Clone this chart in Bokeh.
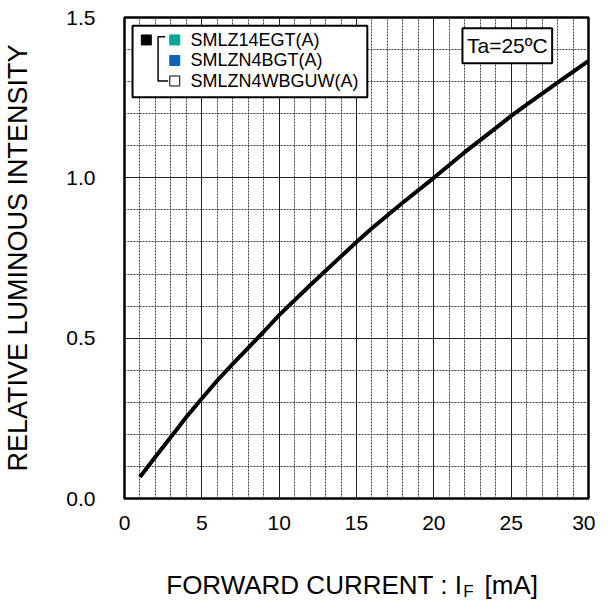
from bokeh.plotting import figure
from bokeh.layouts import column
from bokeh.models import FixedTicker, PrintfTickFormatter, Range1d
from bokeh.core.properties import value
from bokeh.embed import file_html
from bokeh.resources import INLINE

# ---- data ----
current_ma = [1, 2, 3, 4, 5, 6, 7, 8, 9, 10, 12, 14, 15, 16, 18, 20, 22, 24, 25, 26, 28, 30]
rel_intensity = [0.067, 0.130, 0.192, 0.254, 0.312, 0.368, 0.420, 0.470, 0.520, 0.572,
                 0.665, 0.755, 0.800, 0.843, 0.923, 1.000, 1.080, 1.155, 1.193, 1.228,
                 1.297, 1.365]
x_major = [0, 5, 10, 15, 20, 25, 30]
x_minor = list(range(0, 31))
y_major = [0.0, 0.5, 1.0, 1.5]
y_minor = [i / 10 for i in range(0, 16)]
legend_names = ["SMLZ14EGT(A)", "SMLZN4BGT(A)", "SMLZN4WBGUW(A)"]
legend_colors = ["#00A693", "#0F64B4", "#FFFFFF"]
condition_text = "Ta=25ºC"
y_title = "RELATIVE LUMINOUS INTENSITY"
x_title_parts = ["FORWARD CURRENT : I", "F", "[mA]"]

FONT = "Liberation Sans"

xr = Range1d(0, 30)
p = figure(width=595, height=545, x_range=xr, y_range=(0, 1.5),
           output_backend="svg", toolbar_location=None,
           min_border_left=115, min_border_right=7, min_border_top=17, min_border_bottom=47)
p.background_fill_color = "white"
p.border_fill_color = "white"
p.outline_line_color = "black"
p.outline_line_width = 2.5

p.xaxis.ticker = FixedTicker(ticks=x_major, minor_ticks=x_minor)
p.yaxis.ticker = FixedTicker(ticks=y_major, minor_ticks=y_minor)
p.xgrid.ticker = FixedTicker(ticks=x_major, minor_ticks=x_minor)
p.ygrid.ticker = FixedTicker(ticks=y_major, minor_ticks=y_minor)
p.yaxis.formatter = PrintfTickFormatter(format="%.1f")

for ax in (p.xaxis[0], p.yaxis[0]):
    ax.axis_line_color = None
    ax.major_tick_line_color = None
    ax.minor_tick_line_color = None
    ax.major_label_text_font = FONT
    ax.major_label_text_font_size = "21px"
    ax.major_label_text_color = "black"
    ax.axis_label_text_font = FONT
    ax.axis_label_text_font_style = "normal"
    ax.axis_label_text_color = "black"
    ax.axis_label_text_font_size = "27px"

p.yaxis.major_label_standoff = 23
p.xaxis.major_label_standoff = 11
p.yaxis.axis_label = y_title
p.yaxis.axis_label_standoff = 30

for g in (p.xgrid[0], p.ygrid[0]):
    g.grid_line_color = "#222222"
    g.grid_line_width = 1
    g.minor_grid_line_color = "#444444"
    g.minor_grid_line_width = 1
    g.minor_grid_line_dash = "2 1"

# curve
p.line(current_ma, rel_intensity, line_color="black", line_width=4)

# legend box
p.quad(left=[0.52], right=[15.70], top=[1.4746], bottom=[1.2512],
       fill_color="white", line_color="black", line_width=2)
row_y = [1.430, 1.366, 1.302]
p.scatter([1.41], [row_y[0]], marker="square", size=10, fill_color="black", line_color="black")
p.scatter([3.25] * 3, row_y, marker="square", size=10, fill_color=legend_colors,
          line_color=["#00A693", "#0F64B4", "black"], line_width=1)
p.line([2.63, 2.17, 2.17, 2.82], [1.440, 1.440, 1.302, 1.302], line_color="black", line_width=1.5)
p.text([4.27] * 3, row_y, text=legend_names, text_font=value(FONT), text_font_size="18px",
       text_baseline="middle", text_align="left", text_color="black")

# condition box
p.rect([24.75], [1.412], width=5.80, height=0.109, fill_color="white",
       line_color="black", line_width=2)
p.text([24.75], [1.412], text=[condition_text], text_font=value(FONT), text_font_size="21px",
       text_baseline="middle", text_align="center", text_color="black")

# x-axis title strip (subscript needs separate pieces); shares the x scale of the chart
t = figure(width=595, height=55, x_range=xr, y_range=(0, 55),
           output_backend="svg", toolbar_location=None,
           x_axis_type=None, y_axis_type=None,
           min_border_left=115, min_border_right=7, min_border_top=0, min_border_bottom=0)
t.outline_line_color = None
t.background_fill_color = "white"
t.border_fill_color = "white"
t.text([2.70], [16], text=[x_title_parts[0]], text_font=value(FONT), text_font_size="26px",
       text_baseline="alphabetic", text_align="left", text_color="black")
t.text([21.90], [9], text=[x_title_parts[1]], text_font=value(FONT), text_font_size="17px",
       text_baseline="alphabetic", text_align="left", text_color="black")
t.text([23.27], [16], text=[x_title_parts[2]], text_font=value(FONT), text_font_size="26px",
       text_baseline="alphabetic", text_align="left", text_color="black")

layout = column(p, t, spacing=0)
open("out.html", "w").write(file_html(layout, INLINE))
